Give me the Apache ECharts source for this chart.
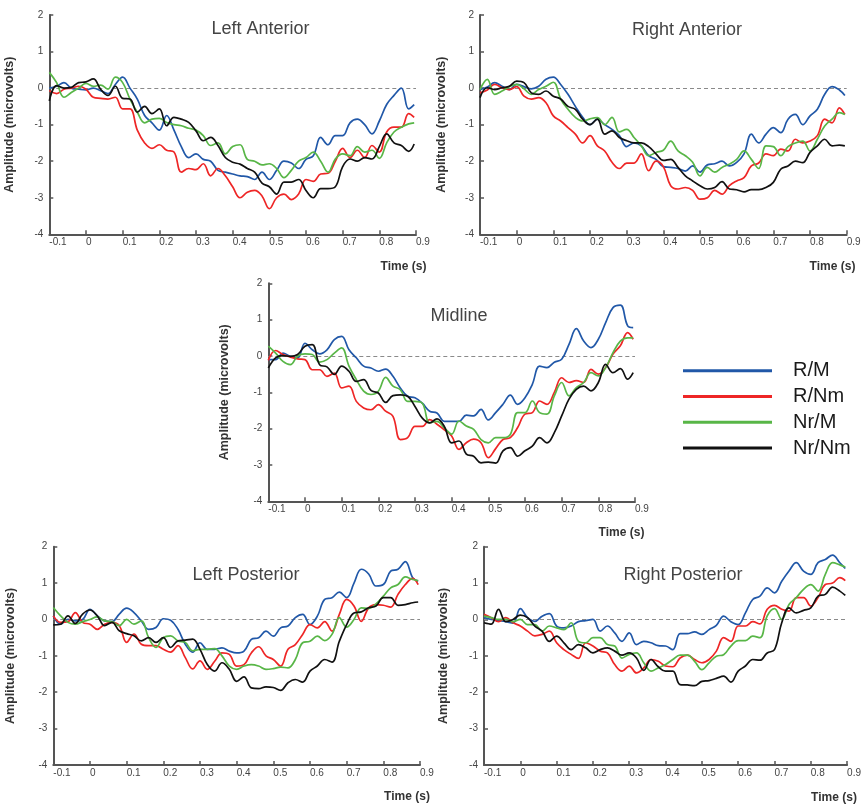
<!DOCTYPE html>
<html>
<head>
<meta charset="utf-8">
<script src="https://cdn.jsdelivr.net/npm/echarts@6/dist/echarts.min.js"></script>
<style>
html,body{margin:0;padding:0;background:#fff;}
#chart{width:864px;height:805px;}
</style>
</head>
<body>
<div id="chart"></div>
<script>
// ---- data (seconds / microvolts) ----
const time = [-0.1,-0.08,-0.06,-0.04,-0.02,0,0.02,0.04,0.06,0.08,0.1,0.12,0.14,0.16,0.18,0.2,0.22,0.24,0.26,0.28,0.3,0.32,0.34,0.36,0.38,0.4,0.42,0.44,0.46,0.48,0.5,0.52,0.54,0.56,0.58,0.6,0.62,0.64,0.66,0.68,0.7,0.72,0.74,0.76,0.78,0.8,0.82,0.84,0.86,0.88,0.895];
const xTicks = [-0.1,0,0.1,0.2,0.3,0.4,0.5,0.6,0.7,0.8,0.9];
const yTicks = [-4,-3,-2,-1,0,1,2];
const conditions = ['R/M','R/Nm','Nr/M','Nr/Nm'];
const panelTitles = ['Left Anterior','Right Anterior','Midline','Left Posterior','Right Posterior'];

// Left Anterior
const laRM   = [0,0.05,0.15,0,-0.03,-0.05,0,-0.07,-0.15,0.1,0.3,0,-0.3,-0.75,-0.95,-1.15,-0.75,-1.15,-1.6,-1.9,-1.8,-1.95,-2.0,-2.25,-2.3,-2.35,-2.4,-2.42,-2.5,-2.3,-2.5,-2.25,-2.0,-2.05,-2.2,-1.95,-1.85,-1.35,-1.55,-1.3,-1.3,-0.95,-0.85,-1.0,-1.25,-0.9,-0.45,-0.2,0,-0.57,-0.45];
const laRNm  = [-0.07,-0.15,-0.03,0,0.05,-0.03,-0.25,-0.28,-0.3,-0.25,-0.57,-0.57,-1.15,-1.5,-1.65,-1.55,-1.7,-1.75,-2.3,-2.2,-2.23,-2.07,-2.4,-2.2,-2.4,-2.7,-3.0,-2.85,-2.8,-2.95,-3.3,-3.0,-2.9,-3.05,-2.9,-2.5,-2.55,-2.35,-2.33,-2.0,-1.65,-1.9,-1.7,-1.9,-1.57,-1.75,-1.2,-1.07,-1.07,-0.7,-0.8];
const laNrM  = [0.43,0.15,-0.25,-0.12,0,0.13,0.05,0.08,-0.03,0.3,0.15,-0.3,-0.66,-0.95,-0.85,-0.83,-0.94,-1.0,-1.03,-1.1,-1.15,-1.3,-1.57,-1.5,-1.8,-1.6,-1.55,-1.95,-2.0,-2.1,-2.07,-2.2,-2.45,-2.25,-2.0,-1.9,-1.75,-2.0,-2.3,-1.94,-1.8,-1.85,-1.6,-1.75,-1.7,-1.92,-1.5,-1.2,-1.07,-0.98,-0.95];
const laNrNm = [-0.35,0.07,0,0.02,0.15,0.17,0.25,-0.03,-0.2,0.05,-0.28,-0.3,-0.66,-0.5,-0.7,-0.57,-1.03,-0.8,-0.85,-0.94,-1.17,-1.44,-1.35,-1.57,-1.9,-2.03,-2.08,-2.2,-2.3,-2.6,-2.7,-2.9,-2.57,-2.57,-2.5,-2.8,-3.0,-2.75,-2.75,-2.7,-2.15,-1.94,-2.0,-1.9,-1.94,-1.6,-1.25,-1.5,-1.57,-1.73,-1.53];

// Right Anterior
const raRM   = [-0.04,0.03,0.15,0.05,-0.04,0.1,0.04,-0.02,0.05,0.24,0.3,0.1,-0.17,-0.5,-0.8,-1.0,-0.85,-1.0,-1.13,-1.3,-1.6,-1.5,-1.58,-1.85,-1.95,-2.15,-2.17,-2.2,-2.27,-2.13,-2.3,-2.1,-2.07,-2.0,-2.13,-2.03,-1.8,-1.26,-1.5,-1.26,-1.08,-1.22,-0.85,-0.72,-1.0,-0.76,-0.58,-0.17,0.04,-0.05,-0.2];
const raRNm  = [-0.13,-0.05,0.1,0.01,-0.04,0.04,-0.22,-0.3,-0.26,-0.4,-0.76,-0.9,-1.08,-1.26,-1.5,-1.3,-1.58,-1.72,-2.03,-2.2,-2.05,-2.05,-1.8,-2.26,-2.0,-2.15,-2.67,-2.76,-2.72,-2.8,-3.04,-3.0,-2.8,-2.9,-2.67,-2.54,-2.45,-2.13,-2.05,-1.8,-1.85,-1.67,-1.72,-1.4,-1.5,-1.45,-1.3,-0.85,-0.95,-0.54,-0.72];
const raNrM  = [-0.04,0.24,-0.17,-0.08,0.04,0.1,-0.02,-0.17,-0.04,0.05,0.16,-0.3,-0.58,-0.8,-0.9,-0.84,-0.81,-1.0,-0.8,-1.2,-1.13,-1.35,-1.58,-1.85,-1.76,-1.7,-1.45,-1.72,-1.85,-2.03,-2.4,-2.17,-2.3,-2.17,-2.08,-1.95,-1.72,-1.95,-2.2,-1.58,-1.6,-1.85,-1.6,-1.5,-1.45,-1.72,-1.4,-1.04,-0.85,-0.67,-0.72];
const raNrNm = [-0.26,0.01,-0.04,0.01,0.05,0.19,0.15,-0.13,-0.17,-0.08,-0.22,-0.3,-0.5,-0.58,-0.85,-1.0,-0.85,-1.26,-1.17,-1.35,-1.44,-1.5,-1.5,-1.6,-1.8,-1.98,-1.95,-2.17,-2.4,-2.54,-2.67,-2.76,-2.72,-2.56,-2.76,-2.78,-2.84,-2.78,-2.78,-2.72,-2.58,-2.22,-2.13,-2.0,-2.04,-1.76,-1.58,-1.4,-1.58,-1.56,-1.58];

// Midline
const mdRM   = [-0.1,-0.1,0.08,-0.01,-0.05,0.35,0.17,0.06,0.17,0.45,0.54,0.17,-0.05,-0.28,-0.33,-0.42,-0.36,-0.56,-0.88,-1.11,-1.15,-1.3,-1.52,-1.57,-1.8,-1.8,-1.8,-1.63,-1.65,-1.47,-1.76,-1.56,-1.33,-1.08,-1.33,-1.15,-0.78,-0.28,-0.32,-0.17,-0.09,0.32,0.75,0.41,0.23,0.46,0.92,1.33,1.4,0.83,0.78];
const mdRNm  = [-0.12,0.15,0.04,-0.03,-0.08,-0.1,-0.38,-0.38,-0.56,-0.47,-0.88,-0.83,-1.25,-1.43,-1.48,-1.34,-1.52,-1.66,-2.3,-2.25,-1.94,-1.94,-1.75,-1.88,-2.03,-2.2,-2.57,-2.39,-2.29,-2.39,-2.8,-2.55,-2.3,-2.25,-1.97,-1.6,-1.56,-1.24,-1.33,-1.0,-0.6,-0.73,-0.68,-0.73,-0.37,-0.5,-0.32,0.05,0.28,0.64,0.46];
const mdNrM  = [0.27,0.08,-0.15,-0.24,0,0.06,0.04,-0.17,-0.1,0.08,0.22,-0.28,-0.65,-0.97,-1.06,-0.97,-0.59,-0.83,-0.93,-1.25,-1.25,-1.3,-1.84,-1.8,-1.98,-2.15,-1.79,-1.93,-2.02,-2.3,-2.39,-2.25,-2.25,-2.16,-1.56,-1.56,-1.24,-1.56,-1.6,-1.1,-0.73,-1.1,-0.87,-0.73,-0.46,-0.55,-0.32,0.09,0.41,0.5,0.5];
const mdNrNm = [-0.33,-0.05,0.01,-0.01,0.04,0.27,0.31,-0.24,-0.3,-0.51,-0.28,-0.42,-0.7,-0.65,-0.95,-1.02,-1.28,-1.09,-1.07,-1.11,-1.39,-1.71,-1.84,-1.73,-1.94,-2.39,-2.34,-2.7,-2.76,-2.94,-2.92,-2.95,-2.61,-2.52,-2.76,-2.61,-2.48,-2.25,-2.39,-2.11,-1.65,-1.19,-0.92,-0.83,-0.96,-0.73,-0.23,-0.46,-0.35,-0.64,-0.46];

// Left Posterior
const lpRM   = [0.1,-0.13,0,-0.04,0,0.28,0.1,-0.04,-0.06,0.15,0.31,0.19,-0.04,-0.27,-0.22,0.02,-0.02,-0.27,-0.68,-0.9,-0.64,-0.82,-0.82,-0.78,-0.87,-0.92,-0.87,-0.55,-0.5,-0.32,-0.46,-0.23,-0.18,0.05,0.14,-0.14,0.09,0.55,0.6,0.75,0.6,1.0,1.38,1.25,0.92,0.96,1.33,1.38,1.59,1.15,1.05];
const lpRNm  = [0.1,-0.08,-0.06,0.19,-0.08,-0.13,-0.27,-0.13,-0.08,-0.17,-0.63,-0.4,-0.68,-0.72,-0.72,-0.82,-0.9,-0.72,-1.05,-1.36,-1.14,-1.37,-1.15,-0.92,-0.96,-1.28,-1.24,-0.92,-0.75,-1.0,-1.1,-1.28,-0.82,-0.69,-0.41,-0.14,-0.23,-0.06,-0.32,0.14,0.55,0.37,-0.05,0.32,0.41,0.39,0.34,0.69,0.96,1.13,0.96];
const lpNrM  = [0.33,0.1,-0.08,-0.13,-0.06,0,0.07,-0.04,-0.06,-0.17,0,-0.13,-0.04,-0.5,-0.77,-0.5,-0.45,-0.59,-0.63,-0.86,-0.82,-0.82,-0.8,-1.0,-1.28,-1.37,-1.28,-1.24,-1.28,-1.37,-1.35,-1.31,-1.33,-1.1,-0.64,-0.6,-0.46,-0.58,-0.41,0.05,-0.21,0,0.32,0.3,0.43,0.64,0.87,0.96,1.17,1.1,1.07];
const lpNrNm = [-0.15,-0.13,0.1,-0.11,0.15,0.26,0.1,-0.17,-0.08,-0.31,-0.39,-0.45,-0.59,-0.5,-0.63,-0.5,-0.77,-0.59,-0.57,-0.54,-0.82,-1.24,-1.42,-1.19,-1.37,-1.7,-1.58,-1.88,-1.9,-1.85,-1.87,-1.95,-1.74,-1.65,-1.72,-1.42,-1.28,-1.1,-1.17,-0.6,-0.14,0.18,0.21,0.32,0.37,0.6,0.6,0.39,0.41,0.46,0.48];

// Right Posterior
const rpRM   = [0.05,0,-0.03,-0.06,-0.1,0.3,0.05,-0.05,0.09,0.16,-0.18,-0.23,-0.18,-0.06,-0.03,0,-0.32,-0.18,-0.37,-0.6,-0.37,-0.69,-0.6,-0.64,-0.72,-0.73,-0.83,-0.39,-0.39,-0.34,-0.41,-0.28,-0.16,0.09,-0.06,-0.14,0.18,0.55,0.64,0.87,0.73,1.05,1.33,1.56,1.33,1.24,1.56,1.65,1.77,1.56,1.4];
const rpRNm  = [0.14,0.05,-0.06,0.05,-0.09,-0.18,-0.32,-0.45,-0.41,-0.32,-0.64,-0.83,-0.96,-1.07,-0.64,-0.73,-0.87,-0.92,-1.24,-1.42,-1.28,-1.47,-1.33,-1.1,-1.15,-1.28,-1.3,-1.06,-0.98,-1.1,-1.19,-1.1,-0.87,-0.5,-0.6,-0.18,-0.18,-0.06,-0.12,0.28,0.39,0.28,0.23,0.6,0.6,0.37,0.6,0.96,1.0,1.15,1.07];
const rpNrM  = [0.09,0.05,0,0,-0.06,0,-0.14,-0.14,-0.32,-0.18,-0.23,-0.28,-0.09,-0.6,-0.64,-0.5,-0.5,-0.69,-0.73,-1.06,-0.96,-0.92,-1.19,-1.42,-1.33,-1.24,-1.1,-0.98,-0.98,-1.15,-1.38,-1.19,-1.01,-0.97,-0.73,-0.58,-0.58,-0.46,-0.5,0.1,0.3,0,0.41,0.6,0.83,0.96,0.78,1.24,1.56,1.5,1.44];
const rpNrNm = [-0.09,-0.13,0.28,-0.06,0,0.12,0.05,-0.18,-0.32,-0.6,-0.46,-0.64,-0.83,-0.69,-0.78,-0.92,-0.83,-0.78,-0.87,-0.98,-0.92,-1.06,-1.4,-1.1,-1.3,-1.42,-1.42,-1.79,-1.8,-1.82,-1.7,-1.68,-1.62,-1.56,-1.72,-1.42,-1.28,-1.1,-1.12,-0.92,-0.83,-0.09,0.32,0.18,0.25,0.32,0.64,0.69,0.89,0.78,0.66];

const panelData = [
  [laRM, laRNm, laNrM, laNrNm],
  [raRM, raRNm, raNrM, raNrNm],
  [mdRM, mdRNm, mdNrM, mdNrNm],
  [lpRM, lpRNm, lpNrM, lpNrNm],
  [rpRM, rpRNm, rpNrM, rpNrNm]
];

// ---- layout / style ----
const colors = ['#2158a8', '#ee2626', '#58b647', '#111111'];
const grids = [
  {left: 49.3, top: 15,    width: 366.7, height: 219.3},
  {left: 480,  top: 15,    width: 366.7, height: 219.3},
  {left: 268.3,top: 283.3, width: 366.7, height: 218},
  {left: 53.3, top: 546.7, width: 366.7, height: 218.3},
  {left: 484,  top: 546.7, width: 366.7, height: 218.3}
];
const nameGaps = [33, 32, 37, 36, 34];
const titlePos = [[260.5, 29], [687, 30], [459, 316], [246, 575], [683, 575]];
const timePos  = [[403.5, 267], [832.5, 267], [621.5, 533], [407, 797], [834, 798]];

const FONT = '"Liberation Sans", Arial, sans-serif';
const axisColor = '#555';

const xAxes = grids.map((g, i) => ({
  type: 'value', gridIndex: i,
  min: xTicks[0], max: xTicks[xTicks.length - 1], interval: 0.1,
  axisLine: {show: true, onZero: false, lineStyle: {color: axisColor, width: 2}},
  axisTick: {show: true, inside: true, length: 4, lineStyle: {color: axisColor, width: 1.5}},
  axisLabel: {
    color: '#444', fontSize: 10, fontFamily: FONT, margin: 3, align: 'left',
    formatter: v => String(Math.round(v * 10) / 10)
  },
  splitLine: {show: false}
}));

const yAxes = grids.map((g, i) => ({
  type: 'value', gridIndex: i,
  min: yTicks[0], max: yTicks[yTicks.length - 1], interval: 1,
  name: 'Amplitude (microvolts)', nameLocation: 'middle', nameGap: nameGaps[i],
  nameTextStyle: {color: '#333', fontSize: 12.5, fontWeight: 'bold', fontFamily: FONT},
  axisLine: {show: true, onZero: false, lineStyle: {color: axisColor, width: 2}},
  axisTick: {show: true, inside: true, length: 4, lineStyle: {color: axisColor, width: 1.5}},
  axisLabel: {color: '#444', fontSize: 10, fontFamily: FONT, margin: 6, padding: [0, 0, 6, 0]},
  splitLine: {show: false}
}));

const series = [];
panelData.forEach((arrs, p) => {
  arrs.forEach((vals, c) => {
    const s = {
      type: 'line', name: conditions[c], xAxisIndex: p, yAxisIndex: p,
      data: time.map((t, k) => [t, vals[k]]),
      showSymbol: false, symbol: 'none', smooth: 0.4,
      lineStyle: {color: colors[c], width: 1.7},
      itemStyle: {color: colors[c]},
      z: 3 + c
    };
    if (c === 0) {
      s.markLine = {
        silent: true, symbol: ['none', 'none'], label: {show: false},
        lineStyle: {type: [4, 3], color: '#8a8a8a', width: 1},
        data: [{yAxis: 0}], z: 1
      };
    }
    series.push(s);
  });
});

const graphics = [];
panelTitles.forEach((t, i) => {
  graphics.push({type: 'text', x: titlePos[i][0], y: titlePos[i][1], silent: true,
    style: {text: t, fill: '#444', font: '18px ' + FONT, align: 'center', verticalAlign: 'middle'}});
  graphics.push({type: 'text', x: timePos[i][0], y: timePos[i][1], silent: true,
    style: {text: 'Time (s)', fill: '#333', font: 'bold 12px ' + FONT, align: 'center', verticalAlign: 'middle'}});
});

const chart = echarts.init(document.getElementById('chart'), null, {renderer: 'canvas'});
chart.setOption({
  animation: false,
  backgroundColor: '#fff',
  grid: grids.map(g => Object.assign({containLabel: false}, g)),
  xAxis: xAxes,
  yAxis: yAxes,
  legend: {
    data: conditions, orient: 'vertical', left: 683, top: 360.7, padding: 0,
    icon: 'rect', itemWidth: 89, itemHeight: 3, itemGap: 5.8,
    itemStyle: {borderWidth: 0},
    textStyle: {fontSize: 20, color: '#1a1a1a', fontFamily: FONT, lineHeight: 20, padding: [0, 0, 0, 16]}
  },
  graphic: graphics,
  series: series
});
</script>
</body>
</html>
